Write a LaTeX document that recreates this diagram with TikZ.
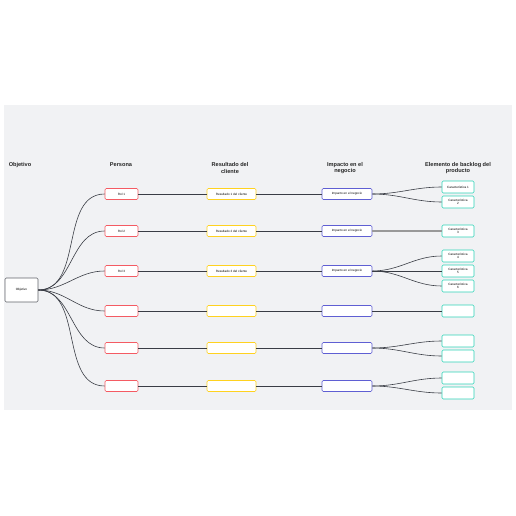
\documentclass[tikz,border=0pt]{standalone}
\usepackage{fontspec}
\setmainfont{Liberation Sans}
\definecolor{bgc}{HTML}{F1F2F4}
\definecolor{rolc}{HTML}{F45B63}
\definecolor{resc}{HTML}{FFD21F}
\definecolor{impc}{HTML}{5F5FD3}
\definecolor{carc}{HTML}{2ED3B7}
\definecolor{linec}{HTML}{3A3D45}
\begin{document}
\begin{tikzpicture}[x=1pt,y=-1pt,
  box/.style={draw, rounded corners=1.3pt, fill=white, line width=0.6pt, inner sep=0pt, align=center, font=\fontsize{3.1}{3.6}\selectfont},
  objbox/.style={box, draw=linec!80, minimum width=33pt, minimum height=24pt},
  rolbox/.style={box, draw=rolc, minimum width=33pt, minimum height=11pt},
  resbox/.style={box, draw=resc, minimum width=49pt, minimum height=11pt},
  impbox/.style={box, draw=impc, minimum width=50pt, minimum height=11pt},
  carbox/.style={box, draw=carc, minimum width=32pt, minimum height=12pt},
  hdr/.style={font=\fontsize{5.6}{6.6}\selectfont\bfseries, align=center, text=black!85},
  conn/.style={draw=linec, line width=0.6pt},
  conng/.style={draw=black!40, line width=1.1pt}]
\useasboundingbox (0,0) rectangle (516,516);
\fill[bgc] (4,105) rectangle (512,410);
% headers
\node[hdr] (h1) at (20,165) {Objetivo};
\node[hdr] (h2) at (121,165) {Persona};
\node[hdr] (h3) at (230,168) {Resultado del\\cliente};
\node[hdr] (h4) at (345,168) {Impacto en el\\negocio};
\node[hdr] (h5) at (458,168) {Elemento de backlog del\\producto};
% objective
\node[objbox] (obj) at (21.5,290) {Objetivo};
% rows
\foreach \i/\y/\t in {1/194/Rol 1,2/231/Rol 2,3/271/Rol 3,4/311/,5/348/,6/386/}{
  \node[rolbox] (r\i) at (121.5,\y) {\t};
}
\foreach \i/\y/\t in {1/194/Resultado 1 del cliente,2/231/Resultado 2 del cliente,3/271/Resultado 3 del cliente,4/311/,5/348/,6/386/}{
  \node[resbox] (s\i) at (231.5,\y) {\t};
}
\foreach \i/\y/\t in {1/194/Impacto en el negocio,2/231/Impacto en el negocio,3/271/Impacto en el negocio,4/311/,5/348/,6/386/}{
  \node[impbox] (m\i) at (347,\y) {\t};
}
\node[carbox] (c1) at (458,187) {Característica 1};
\node[carbox] (c2) at (458,202) {Característica\\2};
\node[carbox] (c3) at (458,231) {Característica\\3};
\node[carbox] (c4) at (458,256) {Característica\\4};
\node[carbox] (c5) at (458,271) {Característica\\5};
\node[carbox] (c6) at (458,286) {Característica\\6};
\node[carbox] (c7) at (458,311) {};
\node[carbox] (c8) at (458,341) {};
\node[carbox] (c9) at (458,356) {};
\node[carbox] (c10) at (458,378) {};
\node[carbox] (c11) at (458,393) {};
% connectors
\foreach \i in {1,...,6}{
  \draw[conn] (obj.east) to[out=0,in=180] (r\i.west);
  \draw[conn] (r\i.east) -- (s\i.west);
  \draw[conn] (s\i.east) -- (m\i.west);
}
\draw[conn] (m1.east) to[out=0,in=180] (c1.west);
\draw[conn] (m1.east) to[out=0,in=180] (c2.west);
\draw[conng] (m2.east) -- (c3.west);
\draw[conn] (m3.east) to[out=0,in=180] (c4.west);
\draw[conn] (m3.east) -- (c5.west);
\draw[conn] (m3.east) to[out=0,in=180] (c6.west);
\draw[conn] (m4.east) -- (c7.west);
\draw[conn] (m5.east) to[out=0,in=180] (c8.west);
\draw[conn] (m5.east) to[out=0,in=180] (c9.west);
\draw[conn] (m6.east) to[out=0,in=180] (c10.west);
\draw[conn] (m6.east) to[out=0,in=180] (c11.west);
\end{tikzpicture}
\end{document}
